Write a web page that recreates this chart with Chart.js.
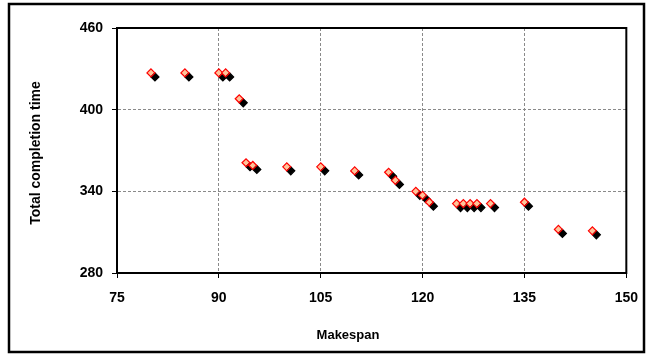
<!DOCTYPE html>
<html>
<head>
<meta charset="utf-8">
<script src="https://cdn.jsdelivr.net/npm/chart.js@4.4.1/dist/chart.umd.min.js"></script>
<style>
  html, body { margin: 0; padding: 0; background: #fff; }
  #wrap { width: 650px; height: 358px; position: relative; }
</style>
</head>
<body>
<div id="wrap"><canvas id="c" width="650" height="358"></canvas></div>
<script>
// Solutions found: makespan vs. total completion time
const makespan = [80, 85, 90, 91, 93, 94, 95, 100, 105, 110, 115, 116, 119, 120, 121, 125, 126, 127, 128, 130, 135, 140, 145];
const totalCompletion = [427, 427, 427, 427, 408, 361, 359, 358, 358, 355, 354, 348, 340, 337, 332, 331, 331, 331, 331, 331, 332, 312, 311];

const xTicks = [75, 90, 105, 120, 135, 150];
const yTicks = [280, 340, 400, 460];
const xTitle = 'Makespan';
const yTitle = 'Total completion time';

const points = makespan.map((m, i) => ({ x: m, y: totalCompletion[i] }));

const FAMILY = '"Liberation Sans", Arial, sans-serif';
const FONT = { family: FAMILY, size: 14, weight: 'bold' };

// Dark drop shadow under each marker
const markerShadow = {
  id: 'markerShadow',
  beforeDatasetDraw(chart) {
    const ctx = chart.ctx;
    ctx.save();
    ctx.shadowColor = '#000000';
    ctx.shadowOffsetX = 4;
    ctx.shadowOffsetY = 4;
    ctx.shadowBlur = 0;
  },
  afterDatasetDraw(chart) {
    chart.ctx.restore();
  }
};

// Plot-area outline, outer chart frame and the two axis titles
const frames = {
  id: 'frames',
  beforeDatasetsDraw(chart) {
    const { ctx, chartArea: a } = chart;
    ctx.save();
    ctx.strokeStyle = '#000';
    ctx.lineWidth = 2;
    ctx.strokeRect(a.left, a.top, a.right - a.left, a.bottom - a.top);
    ctx.restore();
  },
  afterDraw(chart) {
    const ctx = chart.ctx;
    ctx.save();
    ctx.strokeStyle = '#000';
    ctx.lineWidth = 2.5;
    ctx.strokeRect(9, 4, 635, 348);
    ctx.fillStyle = '#000';
    ctx.textAlign = 'center';
    ctx.textBaseline = 'middle';
    ctx.font = 'bold 13px ' + FAMILY;
    ctx.fillText(xTitle, 348, 335);
    ctx.translate(36, 153);
    ctx.rotate(-Math.PI / 2);
    ctx.font = 'bold 14px ' + FAMILY;
    ctx.fillText(yTitle, 0, 0);
    ctx.restore();
  }
};

new Chart(document.getElementById('c'), {
  type: 'scatter',
  data: {
    datasets: [{
      data: points,
      pointStyle: 'rectRot',
      pointRadius: 4,
      pointHoverRadius: 4,
      pointBorderWidth: 1.2,
      pointBackgroundColor: '#FFC49A',
      pointBorderColor: '#FF0000',
      showLine: false
    }]
  },
  options: {
    responsive: false,
    animation: false,
    events: [],
    layout: { padding: { left: 0, right: 18, top: 28, bottom: 0 } },
    plugins: { legend: { display: false }, tooltip: { enabled: false } },
    scales: {
      x: {
        type: 'linear',
        min: xTicks[0],
        max: xTicks[xTicks.length - 1],
        afterBuildTicks: s => { s.ticks = xTicks.map(v => ({ value: v })); },
        afterFit: s => { s.height = 85; },
        ticks: { color: '#000', font: FONT, padding: 12, maxRotation: 0 },
        grid: { color: '#8a8a8a', lineWidth: 1, tickLength: 5, tickColor: '#000', tickBorderDash: [] },
        border: { display: true, color: '#000', width: 2, dash: [3, 2] },
        title: { display: false }
      },
      y: {
        type: 'linear',
        min: yTicks[0],
        max: yTicks[yTicks.length - 1],
        afterBuildTicks: s => { s.ticks = yTicks.map(v => ({ value: v })); },
        afterFit: s => { s.width = 117; },
        ticks: { color: '#000', font: FONT, padding: 9 },
        grid: { color: '#8a8a8a', lineWidth: 1, tickLength: 5, tickColor: '#000', tickBorderDash: [] },
        border: { display: true, color: '#000', width: 2, dash: [3, 2] },
        title: { display: false }
      }
    }
  },
  plugins: [markerShadow, frames]
});
</script>
</body>
</html>
